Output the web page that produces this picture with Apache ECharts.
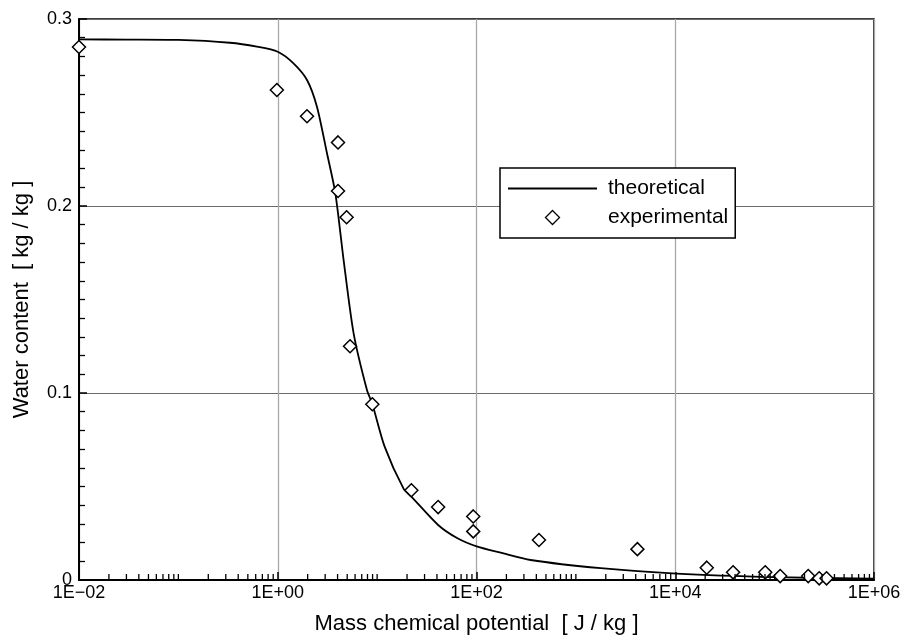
<!DOCTYPE html>
<html>
<head>
<meta charset="utf-8">
<script src="https://cdn.jsdelivr.net/npm/echarts@6/dist/echarts.min.js"></script>
<style>html,body{margin:0;padding:0;background:#fff}#c{width:907px;height:643px}</style>
</head>
<body>
<div id="c"></div>
<script>
// Theoretical curve: [potential J/kg, water content kg/kg]
const theoreticalX = [0.01, 0.03, 0.1, 0.33, 0.616, 1, 1.44, 1.97, 2.48, 3.13, 3.8, 4.6, 5.8, 7.9, 8.95, 11.9, 18.5, 22.1, 41.1, 64.4, 102, 175, 350, 1775, 10280, 100000, 1000000];
const theoreticalY = [0.2891, 0.2890, 0.2888, 0.2873, 0.2852, 0.2825, 0.2763, 0.2674, 0.2531, 0.2282, 0.2068, 0.1711, 0.1319, 0.1016, 0.0941, 0.0713, 0.0487, 0.0446, 0.0294, 0.0223, 0.0178, 0.0146, 0.0107, 0.0063, 0.0034, 0.0015, 0.0007];
// Experimental points
const experimentalX = [0.01, 0.98, 1.97, 4.04, 4.04, 4.93, 5.34, 8.95, 22.1, 41.1, 92.7, 92.7, 425, 4160, 20750, 38200, 80400, 113700, 217800, 281000, 333000];
const experimentalY = [0.285, 0.262, 0.248, 0.234, 0.208, 0.194, 0.125, 0.094, 0.048, 0.039, 0.034, 0.026, 0.0214, 0.0165, 0.0066, 0.0041, 0.0041, 0.0021, 0.0021, 0.0009, 0.0009];
const seriesNames = ['theoretical', 'experimental'];
const xTitle = 'Mass chemical potential  [ J / kg ]';
const yTitle = 'Water content  [ kg / kg ]';
const xMin = 0.01, xMax = 1e6;

// log minor tick positions (axis decoration): 2..9 x 10^k and unlabelled decades
const minorTickVals = [];
for (let e = -2; e < 6; e++) {
  for (let m = 2; m <= 10; m++) {
    const v = m * Math.pow(10, e);
    if (m === 10 && (e + 1) % 2 === 0) continue;
    minorTickVals.push([v, 0]);
  }
}

const FONT = '"Liberation Sans", Arial, Helvetica, sans-serif';
function fmtX(v) {
  const e = Math.round(Math.log10(v));
  const s = e < 0 ? '\u2212' : '+';
  const a = Math.abs(e);
  return '1E' + s + (a < 10 ? '0' + a : '' + a);
}

const chart = echarts.init(document.getElementById('c'), null, {renderer: 'canvas'});
chart.setOption({
  animation: false,
  backgroundColor: '#fff',
  textStyle: {fontFamily: FONT},
  grid: {left: 79, right: 33, top: 19, bottom: 63, show: true, borderColor: '#000', borderWidth: 1.5, backgroundColor: 'transparent'},
  legend: {
    data: [
      {name: seriesNames[0], icon: 'path://M0,0 L89,0 L89,1.8 L0,1.8 Z', itemStyle: {color: '#000', borderWidth: 0}},
      {name: seriesNames[1], icon: 'path://M7,0 L14,7 L7,14 L0,7 Z', itemStyle: {color: '#fff', borderColor: '#000', borderWidth: 1.3}}
    ],
    orient: 'vertical',
    left: 500, top: 168,
    padding: [10, 7, 10, 8],
    borderColor: '#000', borderWidth: 1.5,
    backgroundColor: '#fff',
    itemWidth: 89, itemHeight: 14, itemGap: 8,
    symbolKeepAspect: true,
    textStyle: {fontSize: 21, color: '#000', fontFamily: FONT, lineHeight: 20, padding: [0, 0, 0, 6]}
  },
  xAxis: {
    type: 'log', logBase: 10, min: xMin, max: xMax, interval: 2,
    name: xTitle, nameLocation: 'middle', nameGap: 33,
    nameTextStyle: {fontSize: 22, color: '#000', fontFamily: FONT},
    axisLine: {lineStyle: {color: '#000', width: 2}},
    axisTick: {inside: true, length: 8, lineStyle: {color: '#000', width: 1.5}},
    axisLabel: {fontSize: 18, color: '#000', margin: 4, fontFamily: FONT, formatter: fmtX, showMinLabel: true, showMaxLabel: true},
    splitLine: {show: true, lineStyle: {color: '#a8a8a8', width: 1.3}},
    minorTick: {show: false}
  },
  yAxis: {
    type: 'value', min: 0, max: 0.3, interval: 0.1,
    name: yTitle, nameLocation: 'middle', nameGap: 46,
    nameTextStyle: {fontSize: 22, color: '#000', fontFamily: FONT},
    axisLine: {show: true, lineStyle: {color: '#000', width: 2}},
    axisTick: {show: true, inside: true, length: 8, lineStyle: {color: '#000', width: 1.5}},
    minorTick: {show: true, splitNumber: 10, length: 6, lineStyle: {color: '#000', width: 1.3}},
    axisLabel: {fontSize: 18, color: '#000', margin: 7, fontFamily: FONT, formatter: v => (Math.round(v * 10) / 10).toString()},
    splitLine: {show: true, lineStyle: {color: '#6a6a6a', width: 1}}
  },
  series: [
    {
      name: seriesNames[0], type: 'line',
      data: theoreticalX.map((x, i) => [x, theoreticalY[i]]),
      showSymbol: false, symbol: 'none',
      smooth: 0.25,
      lineStyle: {color: '#000', width: 1.8},
      itemStyle: {color: '#000'},
      z: 3
    },
    {
      name: seriesNames[1], type: 'scatter',
      data: experimentalX.map((x, i) => [x, experimentalY[i]]),
      symbol: 'diamond', symbolSize: 13, clip: false,
      itemStyle: {color: '#fff', borderColor: '#000', borderWidth: 1.5, opacity: 1},
      z: 4
    },
    {
      name: 'minorTicks', type: 'custom',
      data: minorTickVals, silent: true, clip: false, z: 5,
      renderItem: function (params, api) {
        const v = api.value(0);
        const p = api.coord([v, 0]);
        return {type: 'line', shape: {x1: p[0], y1: p[1], x2: p[0], y2: p[1] - 6}, style: {stroke: '#000', lineWidth: 1.3}};
      }
    }
  ]
});
</script>
</body>
</html>
